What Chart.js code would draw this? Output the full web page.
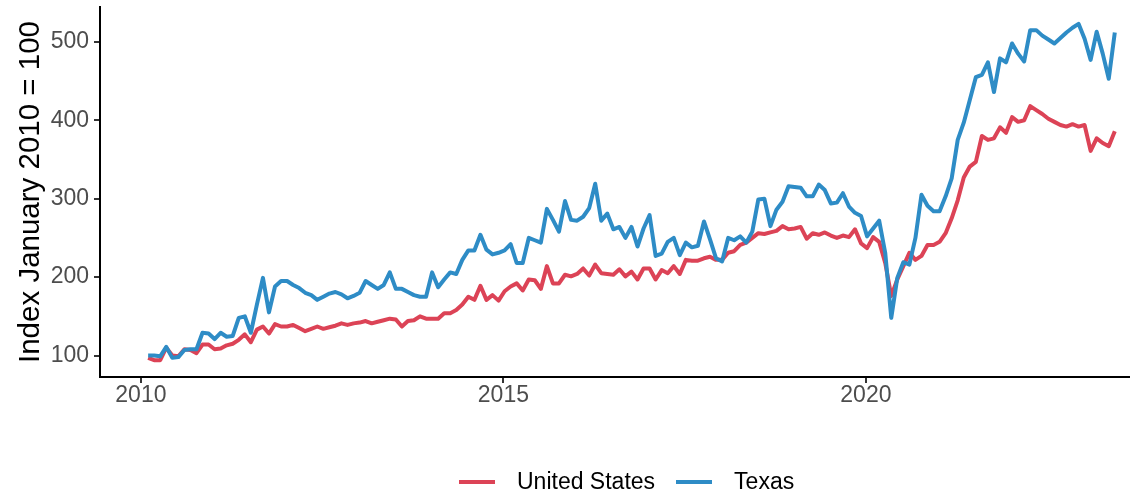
<!DOCTYPE html>
<html lang="en">
<head>
  <meta charset="UTF-8" />
  <title>Index January 2010 = 100</title>
  <script src="https://cdn.jsdelivr.net/npm/chart.js"></script>
  <style>
    body {
      margin: 0;
      background: #fff;
      font-family: "Liberation Sans", Arial, sans-serif;
    }
    .wrap {
      position: relative;
      width: 1130px;
      height: 495px;
    }
    .legend {
      position: absolute;
      left: 459px;
      top: 468px;
      display: flex;
      align-items: center;
      font-size: 23px;
      color: #000;
      white-space: nowrap;
    }
    .legend .key {
      display: inline-block;
      width: 36px;
      height: 4px;
      margin-right: 22px;
    }
    .legend .item {
      display: flex;
      align-items: center;
      margin-right: 21px;
    }
  </style>
</head>
<body>
  <div class="wrap">
    <canvas id="indexChart" width="1130" height="495"></canvas>
    <div class="legend">
      <span class="item"><span class="key" style="background:#DC4356"></span>United States</span>
      <span class="item"><span class="key" style="background:#2E8CC6"></span>Texas</span>
    </div>
  </div>

  <script>
    // monthly series, Jan 2010 .. May 2023 (one row per year)
    const startYear = 2010;

    const usIndex = [
      97, 94, 94, 110, 100, 99, 108, 107, 103, 114, 114, 108,
      109, 113, 115, 120, 127, 117, 133, 137, 128, 140, 137, 137,
      139, 135, 131, 134, 137, 134, 136, 138, 141, 139, 141, 142,
      144, 141, 143, 145, 147, 146, 137, 144, 145, 150, 147, 147,
      147, 154, 154, 158, 165, 175, 171, 189, 171, 177, 170, 182,
      188, 192, 183, 197, 196, 185, 214, 192, 192, 203, 201, 204,
      211, 202, 216, 205, 204, 203, 210, 201, 207, 197, 211, 211,
      197, 209, 205, 214, 204, 222, 221, 221, 224, 226, 222, 222,
      231, 233, 241, 244, 250, 256, 255, 257, 259, 265, 261, 262,
      264, 249, 256, 254, 257, 253, 250, 253, 251, 261, 243, 237,
      251, 245, 218, 176, 197, 214, 231, 222, 227, 241, 241, 245,
      256, 275, 298, 327, 341, 347, 380, 375, 377, 391, 384, 404,
      398, 400, 418, 413, 408, 402, 398, 394, 392, 395, 392, 394,
      361, 377, 371, 367, 386
    ];

    const texasIndex = [
      100, 100, 99, 111, 97, 98, 107, 108, 108, 129, 128, 121,
      129, 124, 125, 148, 150, 129, 165, 199, 155, 188, 195, 195,
      190, 186, 180, 177, 171, 175, 179, 181, 178, 173, 176, 180,
      195, 190, 185, 190, 206, 185, 185, 181, 177, 175, 175, 206,
      187, 197, 206, 204, 222, 234, 234, 254, 235, 229, 231, 234,
      242, 218, 218, 250, 247, 244, 287, 273, 258, 297, 273, 272,
      277, 288, 319, 272, 281, 261, 264, 250, 264, 239, 262, 279,
      227, 230, 245, 250, 228, 244, 238, 240, 271, 248, 224, 220,
      250, 247, 252, 244, 258, 299, 300, 265, 286, 296, 316, 315,
      314, 303, 303, 318, 311, 294, 295, 307, 290, 282, 278, 252,
      262, 272, 231, 148, 199, 219, 216, 250, 305, 291, 284, 284,
      303, 326, 375, 397, 426, 455, 458, 474, 436, 479, 474, 498,
      485, 475, 515, 515, 508, 503, 498, 505, 512, 518, 523, 504,
      477, 513, 485, 453, 512
    ];

    const xTicks = [2010, 2015, 2020];
    const yTicks = [100, 200, 300, 400, 500];

    // monthly dates as decimal years
    const months = usIndex.map((_, i) => startYear + (i + 1.2) / 12);
    const toPoints = arr => arr.map((v, i) => ({ x: months[i], y: v }));

    Chart.defaults.font.family = '"Liberation Sans", Arial, sans-serif';

    new Chart(document.getElementById('indexChart'), {
      type: 'line',
      data: {
        datasets: [
          {
            label: 'United States',
            data: toPoints(usIndex),
            borderColor: '#DC4356',
            order: 2
          },
          {
            label: 'Texas',
            data: toPoints(texasIndex),
            borderColor: '#2E8CC6',
            order: 1
          }
        ]
      },
      options: {
        responsive: false,
        animation: false,
        layout: { padding: { top: 7, right: 0, left: 0, bottom: 0 } },
        elements: {
          line: { borderWidth: 4, borderJoinStyle: 'round', tension: 0, fill: false },
          point: { radius: 0 }
        },
        scales: {
          x: {
            type: 'linear',
            min: 2009.436,
            max: 2023.643,
            border: { display: true, color: '#000', width: 2 },
            grid: { drawOnChartArea: false, drawTicks: true, tickLength: 6, color: '#333', lineWidth: 2 },
            ticks: {
              color: '#4D4D4D',
              font: { size: 23 },
              padding: -1,
              maxRotation: 0,
              callback: v => String(v)
            },
            afterBuildTicks: s => { s.ticks = xTicks.map(v => ({ value: v })); },
            afterFit: s => { s.height = 118; s.paddingLeft = 0; s.paddingRight = 0; }
          },
          y: {
            min: 72.6,
            max: 544.5,
            border: { display: true, color: '#000', width: 2 },
            grid: { drawOnChartArea: false, drawTicks: true, tickLength: 6, color: '#333', lineWidth: 2 },
            ticks: {
              color: '#4D4D4D',
              font: { size: 23 },
              padding: 5,
              callback: v => String(v)
            },
            title: {
              display: true,
              text: 'Index January 2010 = 100',
              color: '#000',
              font: { size: 29.5 },
              padding: { top: 13, bottom: 0 }
            },
            afterBuildTicks: s => { s.ticks = yTicks.map(v => ({ value: v })); },
            afterFit: s => { s.width = 100; s.paddingTop = 0; s.paddingBottom = 0; }
          }
        },
        plugins: {
          legend: { display: false },
          tooltip: { enabled: false }
        }
      }
    });
  </script>
</body>
</html>
